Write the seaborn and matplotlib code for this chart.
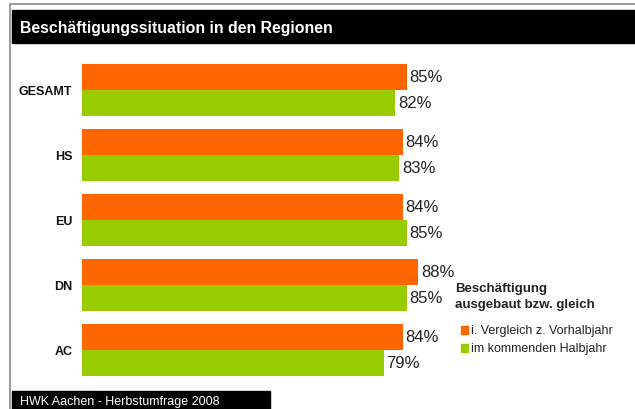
import matplotlib
matplotlib.use("Agg")
import matplotlib.pyplot as plt
import seaborn as sns
import pandas as pd
from matplotlib.patches import Rectangle
from matplotlib.lines import Line2D

regions = ["GESAMT", "HS", "EU", "DN", "AC"]
vorhalbjahr = [85, 84, 84, 88, 84]
halbjahr = [82, 83, 85, 85, 79]
series_names = ["i. Vergleich z. Vorhalbjahr", "im kommenden Halbjahr"]
colors = ["#FF6600", "#99CC00"]

df = pd.DataFrame({
    "Region": regions * 2,
    "Wert": vorhalbjahr + halbjahr,
    "Serie": [series_names[0]] * len(regions) + [series_names[1]] * len(regions),
})

sns.set_style("white")
plt.rcParams["font.family"] = ["Liberation Sans", "DejaVu Sans"]

W, H = 635, 410
fig = plt.figure(figsize=(W / 100, H / 100), dpi=100)

# axes: x 0..100 maps to 82..464 px; y -0.6..4.6 maps to 52..390 px (from top)
ax = fig.add_axes([82 / W, (H - 390) / H, 382 / W, 338 / H])
sns.barplot(data=df, y="Region", x="Wert", hue="Serie", order=regions,
            hue_order=series_names, palette=colors, orient="h",
            width=0.8, saturation=1, linewidth=0, edgecolor="none", ax=ax)
ax.set_xlim(0, 100)
ax.set_ylim(4.6, -0.6)
for s in ax.spines.values():
    s.set_visible(False)
ax.set_xticks([])
ax.set_xlabel("")
ax.set_ylabel("")
ax.tick_params(axis="y", length=0, pad=7)
for lab in ax.get_yticklabels():
    lab.set_fontweight("bold")
    lab.set_fontsize(9)
    lab.set_color("#111111")
for c in ax.containers:
    ax.bar_label(c, fmt="%d%%", padding=2, fontsize=12, color="#222222")

leg = ax.get_legend()
if leg is not None:
    leg.remove()

# legend drawn manually in figure pixel coordinates
def fx(px):
    return px / W

def fy(py):
    return 1 - py / H

fig.text(fx(455), fy(289), "Beschäftigung", fontsize=9.5, fontweight="bold",
         va="center", ha="left", color="#222222")
fig.text(fx(455), fy(305), "ausgebaut bzw. gleich", fontsize=9.5, fontweight="bold",
         va="center", ha="left", color="#222222")
for i, (name, col) in enumerate(zip(series_names, colors)):
    yc = 331 + i * 18
    fig.patches.append(Rectangle((fx(461), fy(yc + 4)), 7 / W, 8 / H,
                                 transform=fig.transFigure, color=col))
    fig.text(fx(471), fy(yc), name, fontsize=9, va="center", ha="left", color="#222222")

# frame lines
fig.add_artist(Line2D([fx(10), fx(10)], [fy(5), fy(410)], color="#888888", lw=1.2,
                      transform=fig.transFigure))
fig.add_artist(Line2D([fx(10), fx(635)], [fy(5), fy(5)], color="#888888", lw=1.2,
                      transform=fig.transFigure))

# title bar
fig.patches.append(Rectangle((fx(12), fy(44)), (635 - 12) / W, 33 / H,
                             transform=fig.transFigure, color="black"))
fig.text(fx(20), fy(28), "Beschäftigungssituation in den Regionen", fontsize=11.4,
         fontweight="bold", color="white", va="center", ha="left")

# footer bar
fig.patches.append(Rectangle((fx(12), fy(410)), (270 - 12) / W, 18 / H,
                             transform=fig.transFigure, color="black"))
fig.text(fx(20), fy(402), "HWK Aachen - Herbstumfrage 2008", fontsize=9,
         color="white", va="center", ha="left")

fig.savefig("out.png", dpi=100)
